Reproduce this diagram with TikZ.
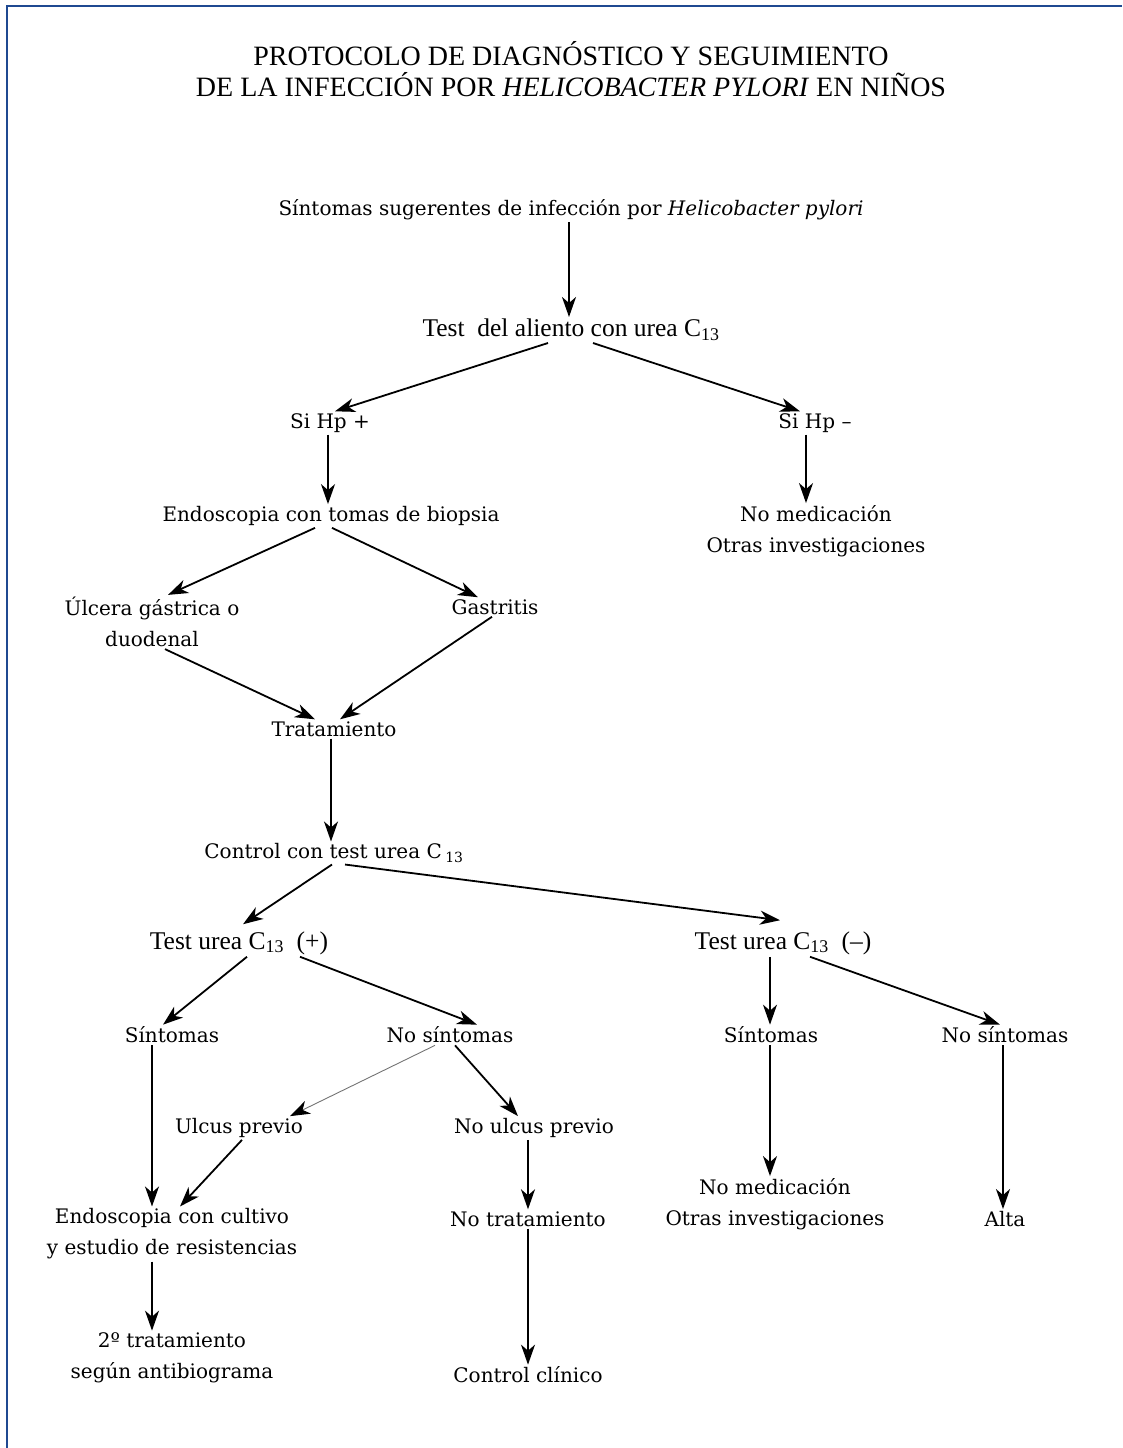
\documentclass[tikz,border=0pt]{standalone}
\usepackage{fontspec}
\setmainfont{Liberation Serif}
\newfontfamily\bodyfont{DejaVu Serif}
\usetikzlibrary{arrows.meta}
\definecolor{framblue}{RGB}{31,73,145}
\begin{document}
\begin{tikzpicture}[x=1pt,y=-1pt,
  every node/.style={inner sep=2pt, align=center},
  bt/.style={font=\bodyfont\fontsize{20}{31}\selectfont},
  tt/.style={font=\fontsize{25.5}{31}\selectfont},
  ttl/.style={font=\fontsize{28}{31}\selectfont},
  arr/.style={draw=black, line width=1.8pt, -{Stealth[length=20pt,width=14pt,inset=6pt]}},
  thinarr/.style={draw=black!55, line width=0.9pt, -{Stealth[length=20pt,width=14pt,inset=6pt,color=black]}}]
\useasboundingbox (0,0) rectangle (1122,1448);
\draw[framblue, line width=2.5pt] (7,1448) -- (7,6) -- (1122,6);

\node[ttl] (title) at (571,69) {PROTOCOLO DE DIAGNÓSTICO Y SEGUIMIENTO\\DE LA INFECCIÓN POR \textit{HELICOBACTER PYLORI} EN NIÑOS};

\node[bt] (s0) at (571,210) {Síntomas sugerentes de infección por \textit{Helicobacter pylori}};
\node[tt] (t1) at (571,330) {Test\ \ del aliento con urea C\textsubscript{13}};
\node[bt] (hpp) at (330,423) {Si Hp +};
\node[bt] (hpm) at (815,423) {Si Hp –};
\node[bt] (endo) at (331,516) {Endoscopia con tomas de biopsia};
\node[bt] (nomed1) at (816,531) {No medicación\\Otras investigaciones};
\node[bt] (ulc) at (152,622) {Úlcera gástrica o\\duodenal};
\node[bt] (gast) at (495,607) {Gastritis};
\node[bt] (trat) at (334,729) {Tratamiento};
\node[bt] (ctrl) at (334,853) {Control con test urea C\,\textsubscript{13}};
\node[tt] (tp) at (239,943) {Test urea C\textsubscript{13}\ \ (+)};
\node[tt] (tm) at (783,943) {Test urea C\textsubscript{13}\ \ (–)};
\node[bt] (sin1) at (172,1035) {Síntomas};
\node[bt] (nosin1) at (450,1035) {No síntomas};
\node[bt] (sin2) at (771,1035) {Síntomas};
\node[bt] (nosin2) at (1005,1035) {No síntomas};
\node[bt] (ulcp) at (239,1128) {Ulcus previo};
\node[bt] (noulcp) at (534,1128) {No ulcus previo};
\node[bt] (endo2) at (172,1234) {Endoscopia con cultivo\\y estudio de resistencias};
\node[bt] (notrat) at (528,1219) {No tratamiento};
\node[bt] (nomed2) at (775,1204) {No medicación\\Otras investigaciones};
\node[bt] (alta) at (1005,1219) {Alta};
\node[bt] (tr2) at (172,1358) {2º tratamiento\\según antibiograma};
\node[bt] (ctrlcl) at (528,1375) {Control clínico};

\draw[arr] ([xshift=-2]s0.south) -- ([xshift=-2]t1.north);
\draw[arr] ([xshift=-23]t1.south) -- ([xshift=5]hpp.north);
\draw[arr] ([xshift=22]t1.south) -- ([xshift=-15]hpm.north);
\draw[arr] ([xshift=-2]hpp.south) -- ([xshift=-3]endo.north);
\draw[arr] ([xshift=-9]hpm.south) -- ([xshift=-10]nomed1.north);
\draw[arr] ([xshift=-16]endo.south) -- ([xshift=16]ulc.north);
\draw[arr] ([xshift=1]endo.south) -- ([xshift=-17]gast.north);
\draw[arr] ([xshift=13]ulc.south) -- ([xshift=-19]trat.north);
\draw[arr] ([xshift=-3]gast.south) -- ([xshift=6]trat.north);
\draw[arr] ([xshift=-3]trat.south) -- ([xshift=-3]ctrl.north);
\draw[arr] ([xshift=-2]ctrl.south) -- ([xshift=4,yshift=5]tp.north);
\draw[arr] ([xshift=11]ctrl.south) -- ([xshift=-3,yshift=9]tm.north);
\draw[arr] ([xshift=8]tp.south) -- ([xshift=-9]sin1.north);
\draw[arr] ([xshift=61]tp.south) -- ([xshift=27]nosin1.north);
\draw[arr] ([xshift=-13]tm.south) -- ([xshift=-1]sin2.north);
\draw[arr] ([xshift=27]tm.south) -- ([xshift=-5]nosin2.north);
\draw[thinarr] ([xshift=-15]nosin1.south) -- ([xshift=51]ulcp.north);
\draw[arr] ([xshift=5]nosin1.south) -- ([xshift=-16]noulcp.north);
\draw[arr] ([xshift=-20]sin1.south) -- ([xshift=-20]endo2.north);
\draw[arr] ([xshift=3]ulcp.south) -- ([xshift=8]endo2.north);
\draw[arr] ([xshift=-6]noulcp.south) -- (notrat.north);
\draw[arr] ([xshift=-1]sin2.south) -- ([xshift=-5]nomed2.north);
\draw[arr] ([xshift=-2]nosin2.south) -- ([xshift=-2]alta.north);
\draw[arr] ([xshift=-20]endo2.south) -- ([xshift=-20]tr2.north);
\draw[arr] (notrat.south) -- (ctrlcl.north);
\end{tikzpicture}
\end{document}
